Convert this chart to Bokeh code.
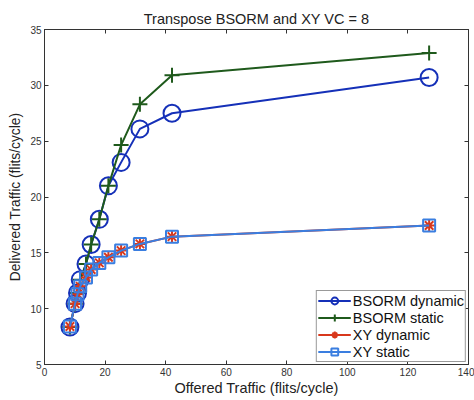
from bokeh.plotting import figure
from bokeh.models import LinearAxis, Range1d, FixedTicker
from bokeh.embed import file_html
from bokeh.resources import INLINE

offered = [8.4, 10.1, 10.9, 11.8, 13.7, 15.4, 18.1, 21.1, 25.3, 31.5, 42.1, 127.0]
bsorm_dynamic = [8.35, 10.45, 11.4, 12.6, 14.0, 15.75, 18.0, 21.0, 23.1, 26.1, 27.5, 30.7]
bsorm_static = [8.35, 10.45, 11.4, 12.6, 14.0, 15.75, 18.0, 21.0, 24.65, 28.3, 30.9, 32.9]
xy_dynamic = [8.4, 10.45, 11.3, 12.0, 12.8, 13.5, 14.1, 14.6, 15.2, 15.8, 16.45, 17.45]
xy_static = [8.4, 10.45, 11.3, 12.0, 12.8, 13.5, 14.1, 14.6, 15.2, 15.8, 16.45, 17.45]
x_ticks = [0, 20, 40, 60, 80, 100, 120, 140]
y_ticks = [5, 10, 15, 20, 25, 30, 35]

FONT = "Liberation Sans"

p = figure(width=474, height=400, output_backend="svg", toolbar_location=None,
           x_range=Range1d(0, 140), y_range=Range1d(5, 35),
           min_border_left=44, min_border_right=6, min_border_top=29, min_border_bottom=36,
           title="Transpose BSORM and XY VC = 8")
p.title.text_font = FONT
p.title.text_font_size = "14.5px"
p.title.text_font_style = "normal"
p.title.align = "center"
p.title.text_color = "#222222"
p.title.standoff = 6

p.xgrid.visible = False
p.ygrid.visible = False
p.outline_line_color = "#333333"
p.outline_line_width = 1
p.background_fill_color = "white"
p.border_fill_color = "white"

for ax in (p.xaxis[0], p.yaxis[0]):
    ax.major_tick_in = 4
    ax.major_tick_out = 0
    ax.minor_tick_line_color = None
    ax.axis_line_color = "#333333"
    ax.major_tick_line_color = "#333333"
    ax.major_label_text_font = FONT
    ax.major_label_text_font_size = "10px"
    ax.major_label_text_color = "#333333"
    ax.axis_label_text_font = FONT
    ax.axis_label_text_font_style = "normal"
    ax.axis_label_text_color = "#222222"
    ax.major_label_standoff = 3

p.xaxis[0].ticker = FixedTicker(ticks=x_ticks)
p.yaxis[0].ticker = FixedTicker(ticks=y_ticks)
p.xaxis[0].axis_label = "Offered Traffic (flits/cycle)"
p.yaxis[0].axis_label = "Delivered Traffic (flits/cycle)"
p.xaxis[0].axis_label_text_font_size = "14.5px"
p.yaxis[0].axis_label_text_font_size = "13.8px"
p.xaxis[0].axis_label_standoff = 1
p.yaxis[0].axis_label_standoff = 4

for loc, ticks in (("above", x_ticks), ("right", y_ticks)):
    ax = LinearAxis(ticker=FixedTicker(ticks=ticks))
    ax.major_tick_in = 4
    ax.major_tick_out = 0
    ax.minor_tick_line_color = None
    ax.axis_line_color = "#333333"
    ax.major_tick_line_color = "#333333"
    ax.major_label_overrides = {t: "" for t in ticks}
    ax.major_label_standoff = 0
    p.add_layout(ax, loc)

c_bd = "#1530b8"
c_bs = "#1f5a1c"
c_xd = "#d8381c"
c_xs = "#3a7ee0"

p.line(offered, bsorm_dynamic, line_color=c_bd, line_width=2, legend_label="BSORM dynamic")
p.scatter(offered, bsorm_dynamic, marker="circle", size=17, fill_color=None,
          line_color=c_bd, line_width=2, legend_label="BSORM dynamic")
p.line(offered, bsorm_static, line_color=c_bs, line_width=2, legend_label="BSORM static")
p.scatter(offered, bsorm_static, marker="cross", size=15, line_color=c_bs,
          line_width=2, legend_label="BSORM static")
p.line(offered, xy_dynamic, line_color=c_xd, line_width=2, legend_label="XY dynamic")
p.scatter(offered, xy_dynamic, marker="asterisk", size=12, line_color=c_xd,
          line_width=2, legend_label="XY dynamic")
p.line(offered, xy_static, line_color=c_xs, line_width=2, legend_label="XY static")
p.scatter(offered, xy_static, marker="square", size=12, fill_color=None,
          line_color=c_xs, line_width=2, legend_label="XY static")

lg = p.legend[0]
lg.location = "bottom_right"
lg.margin = 2
lg.padding = 1
lg.spacing = 0
lg.label_text_font = FONT
lg.label_text_font_size = "14.5px"
lg.label_text_color = "#111111"
lg.label_height = 17
lg.glyph_height = 17
lg.glyph_width = 33
lg.label_standoff = 2
lg.border_line_color = "#333333"
lg.border_line_width = 1
lg.background_fill_alpha = 1

open("out.html", "w").write(file_html(p, INLINE))
